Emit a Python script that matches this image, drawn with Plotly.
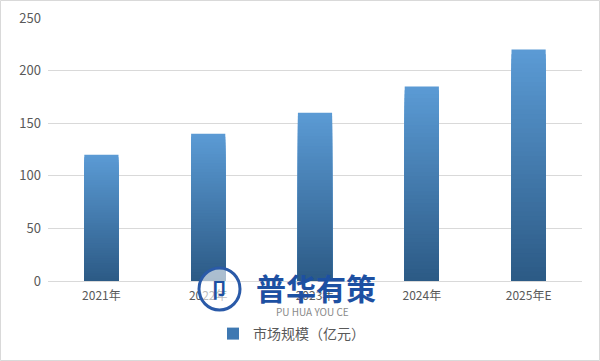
import plotly.graph_objects as go

categories = ["2021年", "2022年", "2023年", "2024年", "2025年E"]
values = [120, 140, 160, 185, 220]
series_name = "市场规模（亿元）"
y_ticks = [0, 50, 100, 150, 200, 250]

top_rgb = (91, 155, 213)
bot_rgb = (44, 90, 133)
N = 50

def mix(t):
    r = [round(b + (a - b) * t) for a, b in zip(top_rgb, bot_rgb)]
    return "rgb(%d,%d,%d)" % tuple(r)

fig = go.Figure()
# nested overlapping bars: each later bar is shorter and darker -> vertical gradient without seams
for k in range(N):
    frac = 1 - k / N
    fig.add_trace(go.Bar(
        x=categories,
        y=[v * frac for v in values],
        marker=dict(color=mix(frac - 0.5 / N), line=dict(width=0)),
        width=0.32,
        showlegend=False,
        hoverinfo="skip",
    ))
# legend entry
fig.add_trace(go.Bar(
    x=categories, y=[0] * len(values), name=series_name,
    marker=dict(color="rgb(62,120,178)", line=dict(width=0)),
    showlegend=True, hoverinfo="skip",
))

L, R, T, B = 48, 18, 18, 80
W, H = 600, 361
pw, ph = W - L - R, H - T - B

def px(x):
    return (x - L) / pw

def py(y):
    return (H - B - y) / ph

fig.update_layout(
    width=W, height=H,
    margin=dict(l=L, r=R, t=T, b=B, autoexpand=False),
    barmode="overlay",
    plot_bgcolor="white", paper_bgcolor="white",
    font=dict(family="Noto Sans CJK SC, Noto Sans, sans-serif", size=12, color="#595959"),
    xaxis=dict(showgrid=False, showline=True, linecolor="#d9d9d9", linewidth=1,
               ticks="", tickfont=dict(size=12, color="#595959"), ticklabelstandoff=4),
    yaxis=dict(range=[0, 250], tickvals=y_ticks, showgrid=True, gridcolor="#d9d9d9",
               gridwidth=1, zeroline=False, showline=False, ticks="",
               tickfont=dict(size=13, color="#595959"), ticklabelstandoff=6),
    legend=dict(orientation="h", x=px(213), xanchor="left", y=py(334), yanchor="middle",
                font=dict(size=14, color="#595959"), itemwidth=30,
                bgcolor="rgba(0,0,0,0)"),
    shapes=[
        dict(type="rect", xref="paper", yref="paper",
             x0=(-L + 0.5) / pw, x1=1 + (R - 0.5) / pw,
             y0=(-B + 0.5) / ph, y1=1 + (T - 0.5) / ph,
             line=dict(color="#d9d9d9", width=1), fillcolor="rgba(0,0,0,0)"),
        # watermark logo circle
        dict(type="circle", xref="paper", yref="paper",
             x0=px(199), x1=px(240), y0=py(310), y1=py(268),
             line=dict(color="#2a5aa8", width=3), fillcolor="rgba(255,255,255,0.6)"),
    ],
    annotations=[
        dict(text="<b>普华有策</b>", xref="paper", yref="paper",
             x=px(316), y=py(287), xanchor="center", yanchor="middle",
             showarrow=False, font=dict(size=30, color="#1d50a2",
                                        family="Noto Sans CJK SC")),
        dict(text="PU HUA YOU CE", xref="paper", yref="paper",
             x=px(312), y=py(311), xanchor="center", yanchor="middle",
             showarrow=False, font=dict(size=10, color="#8a8a8a")),
        dict(text="<b>卩</b>", xref="paper", yref="paper",
             x=px(219), y=py(289), xanchor="center", yanchor="middle",
             showarrow=False, font=dict(size=20, color="#1d50a2")),
    ],
)

fig.write_html("out.html", config={"displayModeBar": False},
               post_script="document.body.style.margin='0px';")
